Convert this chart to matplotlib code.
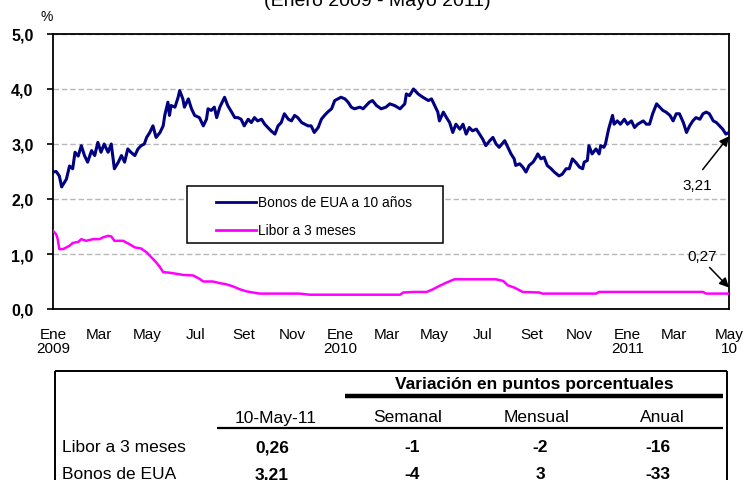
import matplotlib
matplotlib.use("Agg")
import matplotlib.pyplot as plt
from matplotlib.lines import Line2D
from matplotlib.patches import Rectangle
import numpy as np
import pandas as pd

plt.rcParams['font.family'] = ['Liberation Sans', 'DejaVu Sans']

# ---------------- data ----------------
bonos_fechas = [
    "2009-01-01", "2009-01-05", "2009-01-09", "2009-01-12", "2009-01-18", "2009-01-22",
    "2009-01-26", "2009-01-29", "2009-02-02", "2009-02-06", "2009-02-10", "2009-02-14",
    "2009-02-19", "2009-02-23", "2009-02-27", "2009-03-03", "2009-03-07", "2009-03-12",
    "2009-03-16", "2009-03-20", "2009-03-25", "2009-03-29", "2009-04-02", "2009-04-06",
    "2009-04-10", "2009-04-15", "2009-04-19", "2009-04-23", "2009-04-27", "2009-04-30",
    "2009-05-04", "2009-05-08", "2009-05-12", "2009-05-17", "2009-05-21", "2009-05-23",
    "2009-05-27", "2009-05-29", "2009-05-31", "2009-06-05", "2009-06-09", "2009-06-11",
    "2009-06-15", "2009-06-17", "2009-06-22", "2009-06-26", "2009-06-30", "2009-07-06",
    "2009-07-11", "2009-07-15", "2009-07-17", "2009-07-21", "2009-07-25", "2009-07-28",
    "2009-08-01", "2009-08-05", "2009-08-07", "2009-08-11", "2009-08-16", "2009-08-20",
    "2009-08-24", "2009-08-28", "2009-09-01", "2009-09-06", "2009-09-10", "2009-09-14",
    "2009-09-18", "2009-09-23", "2009-09-27", "2009-10-01", "2009-10-05", "2009-10-10",
    "2009-10-14", "2009-10-18", "2009-10-22", "2009-10-27", "2009-10-31", "2009-11-04",
    "2009-11-08", "2009-11-13", "2009-11-17", "2009-11-21", "2009-11-25", "2009-11-29",
    "2009-12-04", "2009-12-08", "2009-12-12", "2009-12-16", "2009-12-21", "2009-12-25",
    "2009-12-29", "2010-01-02", "2010-01-07", "2010-01-11", "2010-01-15", "2010-01-19",
    "2010-01-26", "2010-01-30", "2010-02-03", "2010-02-07", "2010-02-11", "2010-02-16",
    "2010-02-22", "2010-02-28", "2010-03-05", "2010-03-11", "2010-03-18", "2010-03-24",
    "2010-03-26", "2010-03-30", "2010-04-04", "2010-04-10", "2010-04-16", "2010-04-23",
    "2010-04-27", "2010-05-01", "2010-05-05", "2010-05-07", "2010-05-12", "2010-05-16",
    "2010-05-20", "2010-05-24", "2010-05-28", "2010-06-02", "2010-06-06", "2010-06-10",
    "2010-06-14", "2010-06-18", "2010-06-23", "2010-06-27", "2010-07-01", "2010-07-05",
    "2010-07-10", "2010-07-14", "2010-07-18", "2010-07-22", "2010-07-29", "2010-08-02",
    "2010-08-06", "2010-08-10", "2010-08-12", "2010-08-17", "2010-08-21", "2010-08-25",
    "2010-08-29", "2010-09-03", "2010-09-07", "2010-09-09", "2010-09-13", "2010-09-17",
    "2010-09-21", "2010-09-26", "2010-09-30", "2010-10-06", "2010-10-10", "2010-10-15",
    "2010-10-19", "2010-10-23", "2010-10-27", "2010-11-01", "2010-11-05", "2010-11-07",
    "2010-11-11", "2010-11-13", "2010-11-17", "2010-11-22", "2010-11-26", "2010-11-28",
    "2010-12-02", "2010-12-04", "2010-12-08", "2010-12-13", "2010-12-15", "2010-12-19",
    "2010-12-23", "2010-12-28", "2011-01-01", "2011-01-06", "2011-01-10", "2011-01-14",
    "2011-01-21", "2011-01-25", "2011-01-29", "2011-02-02", "2011-02-07", "2011-02-11",
    "2011-02-15", "2011-02-19", "2011-02-24", "2011-02-28", "2011-03-04", "2011-03-08",
    "2011-03-13", "2011-03-17", "2011-03-21", "2011-03-25", "2011-03-29", "2011-04-03",
    "2011-04-07", "2011-04-11", "2011-04-15", "2011-04-20", "2011-04-24", "2011-04-28",
    "2011-05-02", "2011-05-06", "2011-05-10",
]
bonos_valores = [
    2.49, 2.50, 2.42, 2.22, 2.36, 2.60,
    2.55, 2.85, 2.78, 2.97, 2.79, 2.67,
    2.88, 2.79, 3.03, 2.85, 3.00, 2.85,
    3.00, 2.55, 2.67, 2.79, 2.67, 2.91,
    2.85, 2.79, 2.91, 2.97, 3.00, 3.12,
    3.21, 3.33, 3.12, 3.21, 3.33, 3.52,
    3.76, 3.52, 3.70, 3.67, 3.85, 3.97,
    3.82, 3.67, 3.82, 3.64, 3.52, 3.48,
    3.33, 3.45, 3.64, 3.61, 3.67, 3.48,
    3.67, 3.79, 3.85, 3.70, 3.58, 3.48,
    3.48, 3.45, 3.33, 3.45, 3.39, 3.48,
    3.42, 3.45, 3.36, 3.30, 3.24, 3.18,
    3.33, 3.39, 3.55, 3.45, 3.42, 3.52,
    3.48, 3.39, 3.36, 3.33, 3.33, 3.21,
    3.30, 3.45, 3.52, 3.58, 3.64, 3.79,
    3.82, 3.85, 3.82, 3.76, 3.67, 3.64,
    3.67, 3.64, 3.70, 3.76, 3.79, 3.70,
    3.64, 3.67, 3.73, 3.70, 3.64, 3.73,
    3.91, 3.88, 4.00, 3.91, 3.85, 3.79,
    3.82, 3.70, 3.58, 3.42, 3.58, 3.48,
    3.39, 3.21, 3.36, 3.27, 3.36, 3.18,
    3.30, 3.24, 3.27, 3.18, 3.09, 2.97,
    3.06, 3.12, 3.00, 2.94, 3.06, 2.94,
    2.82, 2.73, 2.61, 2.64, 2.58, 2.49,
    2.61, 2.67, 2.76, 2.82, 2.73, 2.76,
    2.61, 2.55, 2.49, 2.42, 2.45, 2.55,
    2.55, 2.73, 2.67, 2.58, 2.55, 2.67,
    2.70, 2.97, 2.82, 2.91, 2.82, 2.97,
    2.94, 3.00, 3.27, 3.52, 3.36, 3.42,
    3.36, 3.45, 3.36, 3.42, 3.30, 3.36,
    3.42, 3.36, 3.36, 3.55, 3.73, 3.67,
    3.61, 3.58, 3.52, 3.42, 3.55, 3.55,
    3.39, 3.21, 3.33, 3.42, 3.48, 3.45,
    3.55, 3.58, 3.55, 3.42, 3.39, 3.33,
    3.27, 3.18, 3.21,
]

libor_fechas = [
    "2009-01-01", "2009-01-05", "2009-01-07", "2009-01-09", "2009-01-14", "2009-01-18",
    "2009-01-22", "2009-01-26", "2009-02-02", "2009-02-06", "2009-02-12", "2009-02-21",
    "2009-03-01", "2009-03-05", "2009-03-12", "2009-03-16", "2009-03-20", "2009-03-31",
    "2009-04-08", "2009-04-15", "2009-04-23", "2009-04-30", "2009-05-06", "2009-05-12",
    "2009-05-17", "2009-05-21", "2009-05-29", "2009-06-07", "2009-06-15", "2009-06-28",
    "2009-07-06", "2009-07-11", "2009-07-23", "2009-08-01", "2009-08-09", "2009-08-18",
    "2009-08-26", "2009-09-04", "2009-09-12", "2009-09-21", "2009-11-10", "2009-11-23",
    "2010-03-18", "2010-03-22", "2010-04-04", "2010-04-21", "2010-04-29", "2010-05-07",
    "2010-05-16", "2010-05-26", "2010-07-18", "2010-07-27", "2010-08-02", "2010-08-10",
    "2010-08-21", "2010-09-11", "2010-09-15", "2010-11-22", "2010-11-26", "2011-04-07",
    "2011-04-11", "2011-05-10",
]
libor_valores = [
    1.42, 1.36, 1.27, 1.09, 1.09, 1.12,
    1.15, 1.20, 1.22, 1.27, 1.24, 1.27,
    1.27, 1.30, 1.33, 1.32, 1.24, 1.24,
    1.18, 1.12, 1.10, 1.03, 0.94, 0.85,
    0.76, 0.67, 0.66, 0.64, 0.62, 0.61,
    0.55, 0.50, 0.50, 0.47, 0.45, 0.41,
    0.36, 0.32, 0.30, 0.28, 0.28, 0.26,
    0.26, 0.30, 0.31, 0.31, 0.36, 0.42,
    0.48, 0.54, 0.54, 0.51, 0.43, 0.39,
    0.31, 0.30, 0.28, 0.28, 0.31, 0.31,
    0.28, 0.28,
]

serie_nombres = ["Bonos de EUA a 10 años", "Libor a 3 meses"]
etiqueta_bonos = "3,21"
etiqueta_libor = "0,27"

tick_fechas = ["2009-01-01", "2009-03-01", "2009-05-01", "2009-07-01", "2009-09-01",
               "2009-11-01", "2010-01-01", "2010-03-01", "2010-05-01", "2010-07-01",
               "2010-09-01", "2010-11-01", "2011-01-01", "2011-03-01", "2011-05-10"]
tick_etiquetas = ["Ene\n2009", "Mar", "May", "Jul", "Set", "Nov", "Ene\n2010", "Mar",
                  "May", "Jul", "Set", "Nov", "Ene\n2011", "Mar", "May\n10"]

subtitulo = "(Enero 2009 - Mayo 2011)"

tabla_encabezado = "Variación en puntos porcentuales"
tabla_columnas = ["10-May-11", "Semanal", "Mensual", "Anual"]
tabla_filas = ["Libor a 3 meses", "Bonos de EUA"]
tabla_valores = [["0,26", "-1", "-2", "-16"],
                 ["3,21", "-4", "3", "-33"]]

# ---------------- figure ----------------
W, H = 749, 481
fig = plt.figure(figsize=(W / 100, H / 100), dpi=100)
fx = lambda x: x / W
fy = lambda y: 1 - y / H

ax = fig.add_axes([fx(53), fy(310), fx(729) - fx(53), fy(35) - fy(310)])

bf = pd.to_datetime(bonos_fechas)
lf = pd.to_datetime(libor_fechas)
ax.plot(bf, bonos_valores, color='#000080', lw=2.2, zorder=3, solid_joinstyle='round')
ax.plot(lf, libor_valores, color='#FF00FF', lw=1.8, zorder=3)

ax.set_xlim(pd.Timestamp("2009-01-01"), pd.Timestamp("2011-05-10"))
ax.set_ylim(0, 5)
ax.set_yticks(np.arange(0, 5.01, 1))
ax.set_yticklabels([f"{v:.1f}".replace('.', ',') for v in np.arange(0, 5.01, 1)],
                   fontweight='bold')
ax.tick_params(axis='y', length=4, width=1.2, direction='out', pad=10, labelsize=11.5,
               colors='black')
ax.set_xticks(pd.to_datetime(tick_fechas))
ax.set_xticklabels(tick_etiquetas)
ax.tick_params(axis='x', length=0, pad=13, labelsize=11)
for lab in ax.get_xticklabels():
    lab.set_linespacing(1.0)

ax.yaxis.grid(True, linestyle=(0, (4, 2)), color='#b8b8b8', lw=1.0)
ax.set_axisbelow(True)
for s in ax.spines.values():
    s.set_color('black')
    s.set_linewidth(1.3)

# annotations
ap = dict(arrowstyle='-|>', color='black', lw=1.1, mutation_scale=14, shrinkA=0, shrinkB=0)
ax.annotate('', xy=(bf[-1], bonos_valores[-1] - 0.07), xytext=(-19, -24),
            textcoords='offset points', arrowprops=ap, annotation_clip=False)
ax.annotate(etiqueta_bonos, xy=(bf[-1], bonos_valores[-1]), xytext=(-22.5, -38),
            textcoords='offset points', ha='center', va='center', fontsize=11)
ax.annotate('', xy=(lf[-1], libor_valores[-1] + 0.11), xytext=(-14, 14.5),
            textcoords='offset points', arrowprops=ap, annotation_clip=False)
ax.annotate(etiqueta_libor, xy=(lf[-1], libor_valores[-1]), xytext=(-19.5, 27),
            textcoords='offset points', ha='center', va='center', fontsize=11)

# legend (manual box)
fig.patches.append(Rectangle((fx(187), fy(244)), fx(443) - fx(187), fy(187) - fy(244),
                             transform=fig.transFigure, facecolor='white',
                             edgecolor='black', lw=1.1, zorder=5))
for i, (nm, col) in enumerate(zip(serie_nombres, ['#000080', '#FF00FF'])):
    yy = 203 + 28 * i
    fig.add_artist(Line2D([fx(216), fx(256)], [fy(yy), fy(yy)], color=col, lw=2.0,
                          transform=fig.transFigure, zorder=6))
    fig.text(fx(258), fy(yy), nm, fontsize=9.9, va='center', ha='left', zorder=6)

# title and unit
fig.text(fx(377), fy(6), subtitulo, fontsize=14, ha='center', va='baseline')
fig.text(fx(47), fy(17), "%", fontsize=10, ha='center', va='center')

# ---------------- table ----------------
def hline(x0, x1, y, lw):
    fig.add_artist(Line2D([fx(x0), fx(x1)], [fy(y), fy(y)], color='black', lw=lw,
                          transform=fig.transFigure, solid_capstyle='butt'))

def vline(x, y0, y1, lw):
    fig.add_artist(Line2D([fx(x), fx(x)], [fy(y0), fy(y1)], color='black', lw=lw,
                          transform=fig.transFigure, solid_capstyle='butt'))

hline(55, 727, 372, 1.4)
vline(55, 372, 482, 1.4)
vline(727, 372, 482, 1.4)
fig.text(fx(534), fy(385), tabla_encabezado, fontsize=12.5, fontweight='bold',
         ha='center', va='center')
hline(345, 723, 397, 3.2)
col_x = [276, 408, 537, 662]
for cx, c in zip(col_x, tabla_columnas):
    fig.text(fx(cx), fy(418), c, fontsize=12.5, ha='center', va='center')
hline(217, 723, 429, 1.6)
val_x = [272, 412, 540, 658]
for r, (nm, vals) in enumerate(zip(tabla_filas, tabla_valores)):
    yy = 448 + 27 * r
    fig.text(fx(62), fy(yy), nm, fontsize=12.5, ha='left', va='center')
    for vx, v in zip(val_x, vals):
        fig.text(fx(vx), fy(yy), v, fontsize=12.5, fontweight='bold', ha='center',
                 va='center')

fig.savefig("out.png", dpi=100)
